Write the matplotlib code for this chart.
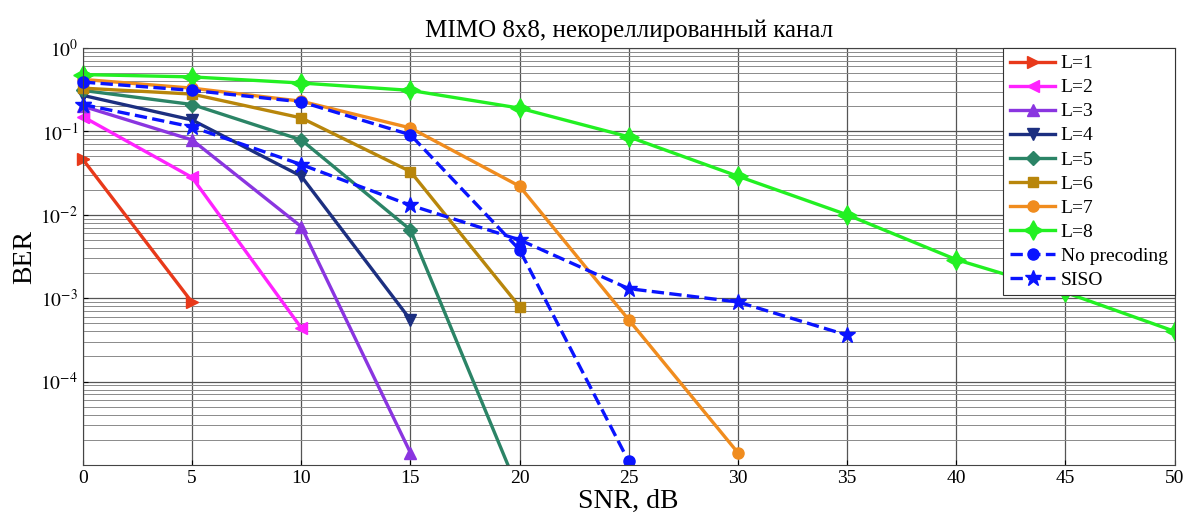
import matplotlib
matplotlib.use("Agg")
import matplotlib.pyplot as plt
import numpy as np
from matplotlib.ticker import LogLocator, NullFormatter

plt.rcParams["font.family"] = ["Liberation Serif", "DejaVu Serif"]
plt.rcParams["mathtext.fontset"] = "stix"

# SNR grid, dB
snr = [0, 5, 10, 15, 20, 25, 30, 35, 40, 45, 50]

# BER per curve
ber_l1 = [0.046, 8.9e-4]
ber_l2 = [0.15, 0.028, 4.4e-4]
ber_l3 = [0.2, 0.079, 7.2e-3, 1.4e-5]
ber_l4 = [0.27, 0.137, 0.029, 5.5e-4]
ber_l5 = [0.31, 0.21, 0.079, 6.6e-3, 4.6e-6]
ber_l6 = [0.33, 0.28, 0.145, 0.033, 7.9e-4]
ber_l7 = [0.42, 0.33, 0.23, 0.11, 0.022, 5.5e-4, 1.4e-5]
ber_l8 = [0.48, 0.45, 0.38, 0.31, 0.19, 0.086, 0.029, 0.010, 2.9e-3, 1.17e-3, 4.0e-4]
ber_noprec = [0.39, 0.31, 0.226, 0.091, 3.8e-3, 1.1e-5]
ber_siso = [0.21, 0.113, 0.040, 0.013, 5.0e-3, 1.3e-3, 9.0e-4, 3.6e-4]

labels = ["L=1", "L=2", "L=3", "L=4", "L=5", "L=6", "L=7", "L=8",
          "No precoding", "SISO"]
series = [ber_l1, ber_l2, ber_l3, ber_l4, ber_l5, ber_l6, ber_l7, ber_l8,
          ber_noprec, ber_siso]
colors = ["#e8391a", "#ff22ff", "#8a35e0", "#1c2f80", "#2b8466",
          "#b8860b", "#f08c1e", "#22f022", "#0a14ff", "#0a14ff"]
markers = [">", "<", "^", "v", "D", "s", "o", (4, 1, 0), "o", "*"]
msizes = [9, 9, 9, 9, 7, 7, 8, 14, 8, 12]
styles = ["-"] * 8 + ["--", "--"]

fig = plt.figure(figsize=(11.9, 5.16), dpi=100)
ax = fig.add_axes([0.0697, 0.099, 0.9173, 0.808])

for y, lab, c, m, ms, ls in zip(series, labels, colors, markers, msizes, styles):
    ax.semilogy(snr[:len(y)], y, ls, color=c, marker=m, markersize=ms,
                markerfacecolor=c, markeredgecolor=c, linewidth=2.4, label=lab,
                clip_on=True)
    # markers on the left edge are drawn whole in the reference
    ax.semilogy(snr[:1], y[:1], linestyle="none", color=c, marker=m,
                markersize=ms, markeredgecolor=c, clip_on=False)

ax.set_xlim(0, 50)
ax.set_ylim(1e-5, 1)
ax.set_xticks(range(0, 51, 5))
ax.set_yticks([1, 1e-1, 1e-2, 1e-3, 1e-4])
ax.set_yticklabels([r"$10^{0}$", r"$10^{-1}$", r"$10^{-2}$", r"$10^{-3}$", r"$10^{-4}$"])
ax.yaxis.set_minor_locator(LogLocator(base=10, subs=np.arange(2, 10)))
ax.yaxis.set_minor_formatter(NullFormatter())
ax.grid(True, which="major", color="#555555", linewidth=0.9)
ax.grid(True, which="minor", axis="y", color="#8a8a8a", linewidth=0.7)
ax.tick_params(axis="both", which="both", direction="in", labelsize=14)
ax.tick_params(axis="x", pad=4)
ax.tick_params(axis="y", which="minor", length=0)
for s in ax.spines.values():
    s.set_color("#444444")

ax.set_title("MIMO 8x8, некореллированный канал", fontsize=18, pad=8)
ax.set_xlabel("SNR, dB", fontsize=20, labelpad=1)
ax.set_ylabel("BER", fontsize=20, labelpad=2)

leg = ax.legend(loc="upper right", fontsize=14, fancybox=False, framealpha=1,
                edgecolor="#333333", handlelength=2.3, handletextpad=0.3,
                borderaxespad=0.0, labelspacing=0.33, borderpad=0.35)
leg.get_frame().set_linewidth(0.8)

fig.savefig("out.png", dpi=100)
